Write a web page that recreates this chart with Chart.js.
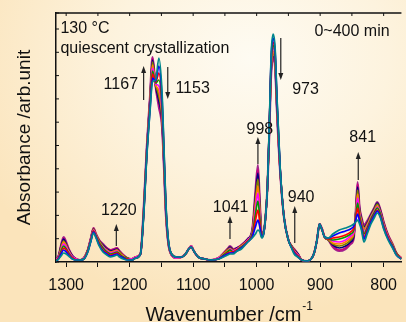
<!DOCTYPE html>
<html>
<head>
<meta charset="utf-8">
<script src="https://cdn.jsdelivr.net/npm/chart.js@4.4.1/dist/chart.umd.min.js"></script>
<style>
  html, body { margin: 0; padding: 0; overflow: hidden; }
  body {
    width: 406px; height: 322px;
    background: radial-gradient(ellipse 75% 80% at 62% 18%, #fefbf2 0%, #fdf3de 45%, #fbe4bb 100%);
  }
  canvas { display: block; }
</style>
</head>
<body>
<canvas id="ftir" width="406" height="322"></canvas>
<script>
// wavenumber (cm-1) and absorbance spectra, 0 -> 400 min
const wavenumber = [1316,1312,1308,1304,1300,1296,1290,1284,1278,1272, 1266,1261,1257,1253,1248,1242,1236,1230,1224,1220,
  1216,1210,1204,1197,1190,1183,1178,1173,1168,1164, 1159,1154,1149,1146,1143,1139,1134,1126,1118,1112,
  1107,1103,1099,1092,1082,1072,1060,1052,1046,1042, 1037,1031,1024,1014,1007,1002,998,995,992,989,
  986,983,980,977,974,971,968,963,957,950, 945,941,935,929,920,913,909,905,901,897,
  893,887,880,870,860,852,847,844,841,838, 835,831,826,820,815,810,805,800,793,786, 780,772];

const times = [0, 45, 90, 135, 180, 225, 270, 315, 360, 400];

const s0 = [1,3,6,9,8,6,3,2,2,3, 10,21,29,24,16,10,7,5,6,7, 5,3,2,2,4,8,45,105,150,180, 182,204,170,115,60,22,8,5,5,8,
  13,15,11,5,3,2,3,5,7,8, 8,11,13,20,24,28,32,30,24,28, 45,75,140,210,228,215,165,95,45,22, 14,8,5,2,1,4,10,22,38,32,
  25,24,28,32,34,36,38,40,42,38, 32,20,28,38,44,49,44,33,22,14, 7,3];
const s1 = [1,3,8,12,10,7,3,2,2,3, 10,21,30,25,17,11,8,6,7,8, 6,4,2,2,4,8,46,107,152,184, 181,196,164,112,58,21,8,5,5,8,
  13,15,11,5,3,2,3,6,8,9, 9,11,14,20,25,35,42,35,25,28, 45,75,138,207,224,212,163,94,45,22, 14,9,5,2,1,4,10,22,38,32,
  25,24,26,29,31,33,36,42,48,41, 34,23,30,40,46,51,45,34,23,15, 7,3];
const s2 = [1,4,9,14,12,8,4,2,2,3, 11,22,31,25,18,12,9,7,8,9, 7,4,3,2,4,8,47,108,155,188, 180,189,159,109,56,21,8,5,5,8,
  13,15,11,5,3,2,3,6,9,10, 10,12,14,21,26,41,52,39,25,29, 45,75,137,204,220,209,160,93,45,22, 15,10,6,2,1,4,10,22,38,32,
  25,23,24,25,27,30,34,43,54,43, 36,25,32,41,47,52,46,35,24,15, 8,3];
const s3 = [1,4,11,16,13,9,4,2,2,3, 11,22,31,26,19,14,10,8,9,10, 8,5,3,2,4,8,48,110,157,191, 179,182,154,106,55,20,8,5,5,8,
  13,15,11,5,3,2,3,7,10,12, 10,12,15,21,28,47,61,44,26,29, 45,75,136,201,217,206,158,93,45,22, 15,10,6,2,1,4,10,22,38,32,
  25,23,22,23,25,28,32,45,59,46, 38,28,34,43,49,54,48,36,24,16, 8,3];
const s4 = [2,5,12,18,15,10,5,3,2,4, 11,23,32,26,19,15,11,9,10,11, 8,5,3,3,5,8,49,111,159,194, 178,176,150,104,53,20,7,4,5,8,
  13,16,11,5,3,2,4,7,10,13, 11,13,15,22,29,52,69,47,26,29, 45,75,134,199,214,204,156,92,45,22, 15,11,7,2,1,4,10,22,38,33,
  25,23,21,20,22,26,30,46,64,48, 39,30,35,44,50,55,49,37,25,16, 8,4];
const s5 = [2,5,13,20,16,11,5,3,2,4, 11,23,32,27,20,15,12,10,11,12, 9,6,3,3,5,8,50,112,160,197, 177,171,146,101,52,19,7,4,5,8,
  13,16,11,5,3,2,4,8,11,13, 11,13,16,22,29,57,76,50,27,29, 45,75,133,196,211,201,155,92,45,22, 15,11,7,2,1,4,10,22,38,33,
  25,23,19,18,20,24,29,47,68,50, 41,32,37,45,51,56,49,38,25,17, 8,4];
const s6 = [2,5,15,21,17,11,5,3,2,4, 12,23,33,27,21,16,12,10,11,12, 10,6,4,3,5,8,50,113,162,200, 177,166,143,99,51,19,7,4,5,8,
  13,16,11,5,3,2,4,8,12,14, 12,13,16,22,30,61,83,53,27,30, 45,75,132,194,209,199,153,91,45,22, 16,12,7,2,1,4,10,22,38,33,
  25,22,18,16,18,22,28,48,72,51, 42,33,38,46,52,58,50,38,26,17, 9,4];
const s7 = [2,6,16,23,18,12,6,3,2,4, 12,24,33,27,21,17,13,11,12,13, 10,6,4,3,5,8,51,114,163,202, 176,161,140,98,50,18,7,4,5,8,
  13,16,11,5,3,2,4,8,12,15, 12,14,16,23,31,65,89,56,27,30, 45,75,131,193,206,198,152,91,45,22, 16,12,8,2,1,4,10,22,38,33,
  25,22,17,14,16,20,26,49,75,53, 43,35,39,47,53,59,51,39,26,17, 9,4];
const s8 = [2,6,16,24,19,13,6,3,2,4, 12,24,34,28,22,17,14,12,13,14, 11,7,4,3,5,8,52,114,164,204, 175,158,137,96,49,18,7,4,5,8,
  13,16,11,5,3,2,4,9,13,15, 13,14,17,23,31,67,93,58,28,30, 45,75,131,191,205,196,151,90,45,22, 16,13,8,2,1,4,10,22,38,33,
  25,22,16,12,14,19,25,49,78,54, 44,36,40,47,53,59,52,40,27,18, 9,4];
const s9 = [2,6,17,25,20,13,6,3,2,4, 12,24,34,28,22,18,14,12,13,14, 11,7,4,3,5,8,52,115,165,205, 175,155,135,95,48,18,7,4,5,8,
  13,16,11,5,3,2,4,9,13,16, 13,14,17,23,32,70,97,60,28,30, 45,75,130,190,203,195,150,90,45,22, 16,13,8,2,1,4,10,22,38,33,
  25,22,15,11,13,18,24,50,80,55, 45,37,41,48,54,60,52,40,27,18, 9,4];

const spectra = [s0, s1, s2, s3, s4, s5, s6, s7, s8, s9];
const colors = ['#00868b', '#0000ff', '#ff0000', '#009900', '#ff00ff', '#ff8000', '#808000', '#000080', '#cc0077', '#a0268f'];

// peak labels and arrows (wavenumber, absorbance)
const labelText = ['130 \u00B0C', 'quiescent crystallization', '0~400 min', '1167', '1153', '973', '998', '841', '940', '1041', '1220'];
const labelWn   = [1309, 1309, 909, 1241, 1128, 944, 1016, 854, 951, 1069, 1245];
const labelAbs  = [229, 209, 226, 173, 169, 168, 128, 120, 60, 50, 47];

const arrowWn   = [1178, 1140, 962, 998, 840, 940, 1042, 1221];
const arrowFrom = [162, 195, 224, 98, 82, 19, 23, 16];
const arrowTo   = [196, 163, 182, 125, 110, 56, 46, 38];

Chart.defaults.font.family = 'Arial, "Liberation Sans", sans-serif';
Chart.defaults.color = '#111';

const decor = {
    id: 'decor',
    afterDraw(chart) {
        const ctx = chart.ctx;
        const a = chart.chartArea;
        const x = chart.scales.x, y = chart.scales.y;
        ctx.save();

        // top frame and inward ticks
        ctx.strokeStyle = '#111';
        ctx.lineWidth = 1.5;
        ctx.beginPath();
        ctx.moveTo(a.left, a.top);
        ctx.lineTo(a.right, a.top);
        ctx.stroke();
        ctx.lineWidth = 1;
        ctx.beginPath();
        x.ticks.forEach(t => {
            const px = x.getPixelForValue(t.value);
            ctx.moveTo(px, a.top);
            ctx.lineTo(px, a.top + 3);
        });
        y.ticks.forEach(t => {
            const py = y.getPixelForValue(t.value);
            ctx.moveTo(a.left, py);
            ctx.lineTo(a.left + 3, py);
        });
        ctx.stroke();

        // arrows
        ctx.strokeStyle = '#222';
        ctx.fillStyle = '#222';
        ctx.lineWidth = 1.2;
        for (let i = 0; i < arrowWn.length; i++) {
            const px = x.getPixelForValue(arrowWn[i]);
            const y0 = y.getPixelForValue(arrowFrom[i]);
            const y1 = y.getPixelForValue(arrowTo[i]);
            const dir = y1 > y0 ? 1 : -1;
            ctx.beginPath();
            ctx.moveTo(px, y0);
            ctx.lineTo(px, y1 - dir * 5);
            ctx.stroke();
            ctx.beginPath();
            ctx.moveTo(px, y1);
            ctx.lineTo(px - 2.5, y1 - dir * 7);
            ctx.lineTo(px + 2.5, y1 - dir * 7);
            ctx.closePath();
            ctx.fill();
        }

        // text labels
        ctx.fillStyle = '#111';
        ctx.font = '16px Arial, "Liberation Sans", sans-serif';
        ctx.textBaseline = 'alphabetic';
        ctx.textAlign = 'left';
        for (let i = 0; i < labelText.length; i++) {
            ctx.fillText(labelText[i], x.getPixelForValue(labelWn[i]), y.getPixelForValue(labelAbs[i]));
        }

        // x axis title with superscript
        ctx.font = '20px Arial, "Liberation Sans", sans-serif';
        const main = 'Wavenumber /cm';
        const w1 = ctx.measureText(main).width;
        ctx.font = '12px Arial, "Liberation Sans", sans-serif';
        const w2 = ctx.measureText('-1').width;
        const left = (a.left + a.right) / 2 - (w1 + w2) / 2;
        ctx.font = '20px Arial, "Liberation Sans", sans-serif';
        ctx.fillText(main, left, 321);
        ctx.font = '12px Arial, "Liberation Sans", sans-serif';
        ctx.fillText('-1', left + w1 + 1, 310);

        ctx.restore();
    }
};

const datasets = spectra.map((s, i) => ({
    label: times[i] + ' min',
    data: wavenumber.map((w, j) => ({ x: w, y: s[j] })),
    borderColor: colors[i],
    borderWidth: i === spectra.length - 1 ? 2.2 : 1.7,
    pointRadius: 0,
    fill: false,
    cubicInterpolationMode: 'monotone'
}));

new Chart(document.getElementById('ftir').getContext('2d'), {
    type: 'line',
    data: { datasets: datasets },
    options: {
        responsive: false,
        animation: false,
        devicePixelRatio: 1,
        layout: { padding: { top: 13, left: 0, right: 0, bottom: 0 } },
        plugins: { legend: { display: false }, tooltip: { enabled: false } },
        scales: {
            x: {
                type: 'linear',
                reverse: true,
                min: 772,
                max: 1316,
                border: { display: true, color: '#111', width: 1.5 },
                grid: { drawOnChartArea: false, drawTicks: true, tickLength: 5, color: '#111' },
                ticks: {
                    stepSize: 50,
                    includeBounds: false,
                    autoSkip: false,
                    maxRotation: 0,
                    padding: 9,
                    font: { size: 16 },
                    color: '#111',
                    callback: v => (v % 100 === 0 ? v : '')
                },
                afterFit: s => { s.height = 60; }
            },
            y: {
                min: 0,
                max: 249,
                border: { display: true, color: '#111', width: 1.5 },
                grid: { drawOnChartArea: false, drawTicks: false },
                ticks: { display: false, stepSize: 23.3 },
                title: {
                    display: true,
                    text: 'Absorbance /arb.unit',
                    font: { size: 19 },
                    color: '#111',
                    padding: { top: 13, bottom: 0 }
                },
                afterFit: s => { s.width = 56; }
            }
        }
    },
    plugins: [decor]
});
</script>
</body>
</html>
